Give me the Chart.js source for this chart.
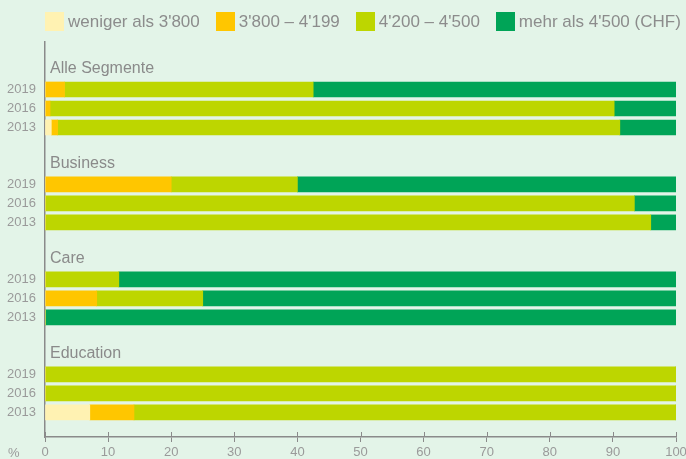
<!DOCTYPE html>
<html><head><meta charset="utf-8">
<script src="https://cdn.jsdelivr.net/npm/chart.js@4.4.1/dist/chart.umd.min.js"></script>
<style>
html,body{margin:0;padding:0;background:#E3F4E8;}
#wrap{position:relative;width:686px;height:459px;overflow:hidden;background:#E3F4E8;}
canvas{position:absolute;left:0;top:0;}
#legend{position:absolute;left:45px;top:12px;display:flex;align-items:center;font-family:"Liberation Sans",Arial,sans-serif;font-size:17px;color:#8c8c8c;white-space:nowrap;}
.item{display:flex;align-items:center;margin-right:16px;height:19px;}
.box{width:19px;height:19px;margin-right:4px;}
</style></head><body>
<div id="wrap"><canvas id="c" width="686" height="459"></canvas><div id="legend"></div></div>
<script>
// ---- data ----
const groups = ['Alle Segmente', 'Business', 'Care', 'Education'];
const years = ['2019', '2016', '2013'];
const seriesNames = ["weniger als 3'800", "3'800 – 4'199", "4'200 – 4'500", "mehr als 4'500 (CHF)"];
// order: Alle 2019, 2016, 2013, Business 2019, 2016, 2013, Care ..., Education ...
const lt3800     = [0,    0,    1.0,  0,    0,    0,    0,    0,    0,    0,    0,    7.1];
const r3800_4199 = [3.1,  0.8,  1.0,  20,   0,    0,    0,    8.2,  0,    0,    0,    7.0];
const r4200_4500 = [39.4, 89.4, 89.1, 20,   93.4, 96.0, 11.7, 16.8, 0,    100,  100,  85.9];
const gt4500     = [57.5, 9.8,  8.9,  60,   6.6,  4.0,  88.3, 75.0, 100,  0,    0,    0];
const xTickValues = [0, 10, 20, 30, 40, 50, 60, 70, 80, 90, 100];
const unitLabel = '%';

const colors = ['#FFF2B2', '#FFC600', '#BDD600', '#00A457'];
const FONT = '"Liberation Sans", Arial, sans-serif';

// row layout: each group = title row + 3 year rows + spacer
const rowsPerGroup = years.length + 2;
const rowOf = i => Math.floor(i / years.length) * rowsPerGroup + 1 + (i % years.length);
const barRows = lt3800.map((_, i) => rowOf(i));
const rowLabel = {};
barRows.forEach((r, i) => { rowLabel[r] = years[i % years.length]; });

const seriesValues = [lt3800, r3800_4199, r4200_4500, gt4500];
const datasets = seriesValues.map((vals, s) => ({
  label: seriesNames[s],
  data: vals.map((v, i) => ({ x: v, y: rowOf(i) })),
  backgroundColor: colors[s],
  borderWidth: 0,
  barThickness: 15
}));

// HTML legend
const legend = document.getElementById('legend');
seriesNames.forEach((n, s) => {
  const it = document.createElement('div'); it.className = 'item';
  const b = document.createElement('div'); b.className = 'box'; b.style.background = colors[s];
  const t = document.createElement('span'); t.textContent = n;
  it.appendChild(b); it.appendChild(t); legend.appendChild(it);
});

const extras = {
  id: 'extras',
  afterDatasetsDraw(chart) {
    const ctx = chart.ctx, ys = chart.scales.y, xs = chart.scales.x, ca = chart.chartArea;
    ctx.save();
    ctx.fillStyle = '#8a8a8a';
    ctx.font = '16px ' + FONT;
    ctx.textAlign = 'left';
    ctx.textBaseline = 'middle';
    groups.forEach((g, i) => {
      ctx.fillText(g, ca.left + 5, ys.getPixelForValue(i * rowsPerGroup) - 2);
    });
    ctx.strokeStyle = '#8a8a8a';
    ctx.lineWidth = 1;
    xTickValues.forEach(v => {
      const px = Math.round(xs.getPixelForValue(v)) + 0.5;
      ctx.beginPath(); ctx.moveTo(px, ca.bottom); ctx.lineTo(px, ca.bottom - 5); ctx.stroke();
    });
    ctx.fillStyle = '#9a9a9a';
    ctx.font = '13px ' + FONT;
    ctx.fillText(unitLabel, 8, ca.bottom + 16);
    ctx.restore();
  }
};

new Chart(document.getElementById('c'), {
  type: 'bar',
  data: { datasets },
  plugins: [extras],
  options: {
    indexAxis: 'y',
    responsive: false,
    animation: false,
    layout: { padding: { top: 42, right: 10, left: 0, bottom: 0 } },
    plugins: { legend: { display: false }, tooltip: { enabled: false } },
    scales: {
      x: {
        type: 'linear', stacked: true, min: 0, max: 100, position: 'bottom', offset: false,
        afterBuildTicks: s => { s.ticks = xTickValues.map(v => ({ value: v })); },
        afterFit: s => { s.height = 22; s.paddingRight = 0; s.paddingLeft = 0; },
        border: { display: true, color: '#8a8a8a', width: 1.5 },
        grid: { display: true, drawOnChartArea: false, drawTicks: true, tickLength: 5, color: '#8a8a8a', lineWidth: 1 },
        ticks: { color: '#9a9a9a', font: { family: FONT, size: 13 }, padding: 3, maxRotation: 0, autoSkip: false }
      },
      y: {
        type: 'linear', stacked: true, reverse: true, min: -1.5, max: 19.3, offset: false,
        afterBuildTicks: s => { s.ticks = barRows.map(r => ({ value: r })); },
        afterFit: s => { s.width = 45; },
        border: { display: true, color: '#8a8a8a', width: 1.5 },
        grid: { display: false, drawTicks: false },
        ticks: { callback: v => rowLabel[v] || '', color: '#9a9a9a', font: { family: FONT, size: 13 }, padding: 9, autoSkip: false }
      }
    }
  }
});
</script>
</body></html>
